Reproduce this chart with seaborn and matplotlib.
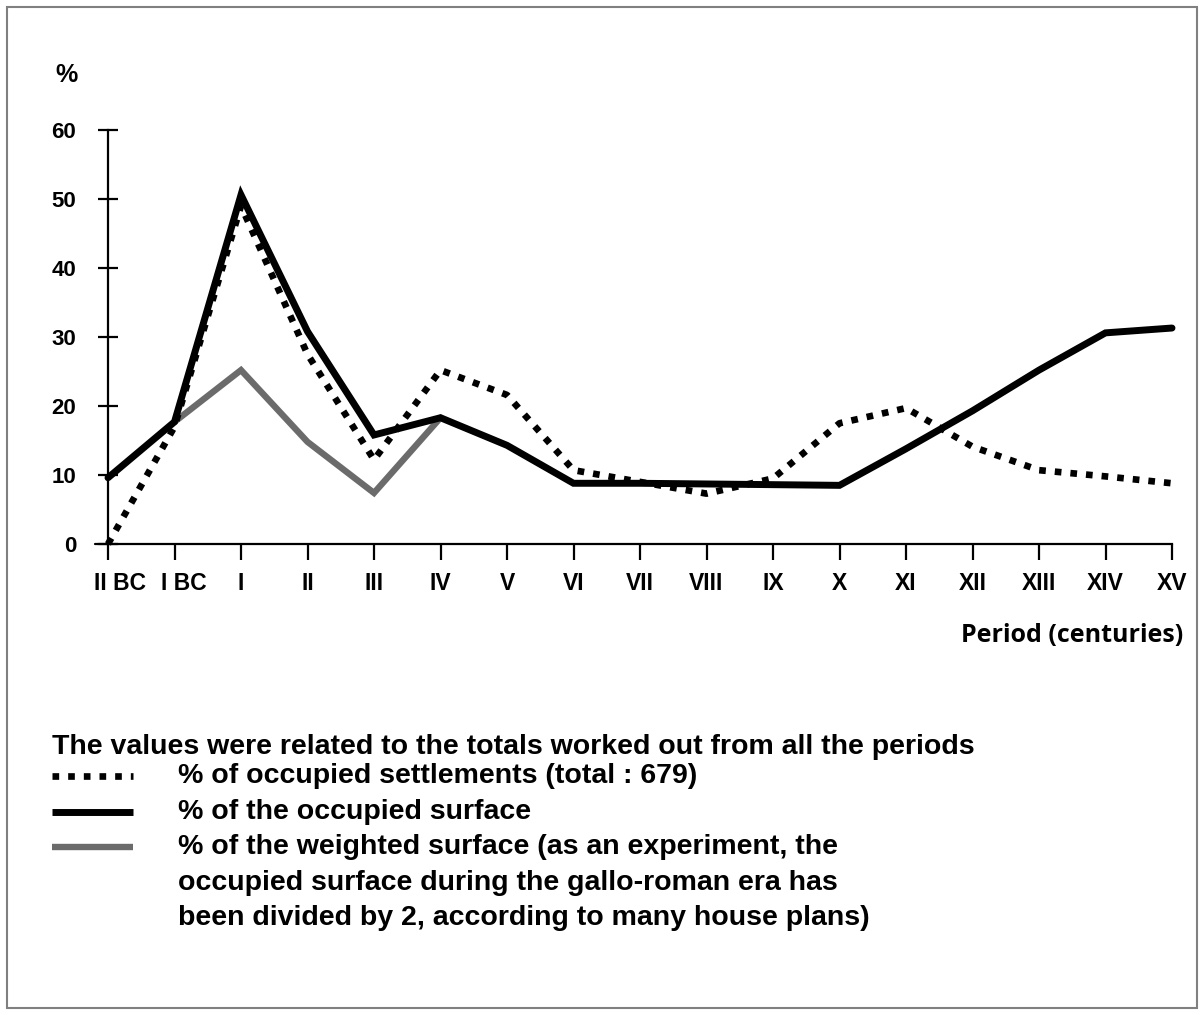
import matplotlib
matplotlib.use("Agg")
import matplotlib.pyplot as plt
import matplotlib.transforms as mtransforms
import seaborn as sns
import pandas as pd
from matplotlib.patches import Rectangle
from matplotlib.lines import Line2D

periods = ["II BC", "I BC", "I", "II", "III", "IV", "V", "VI", "VII", "VIII",
           "IX", "X", "XI", "XII", "XIII", "XIV", "XV"]
settlements = [0, 17, 49, 27.5, 12.2, 25.2, 21.6, 10.7, 9.0, 7.3,
               9.5, 17.5, 19.7, 14.1, 10.7, 9.8, 8.8]
surface = [9.6, 17.7, 50.6, 30.8, 15.8, 18.3, 14.3, 8.8, 8.8, 8.7,
           8.6, 8.5, 13.8, 19.3, 25.2, 30.6, 31.3]
weighted_periods = ["I BC", "I", "II", "III", "IV"]
weighted = [17.7, 25.2, 14.8, 7.4, 18.3]

yticks = [0, 10, 20, 30, 40, 50, 60]

sns.set_style("white")
plt.rcParams['font.family'] = ['Liberation Sans', 'DejaVu Sans']
plt.rcParams['text.color'] = 'black'

fig = plt.figure(figsize=(12.04, 10.15), dpi=100)
ax = fig.add_axes([108/1204, 1-544/1015, (1172-108)/1204, (544-130)/1015])

pos = {p: i for i, p in enumerate(periods)}
df1 = pd.DataFrame({"x": [pos[p] for p in periods], "y": settlements})
df2 = pd.DataFrame({"x": [pos[p] for p in periods], "y": surface})
df3 = pd.DataFrame({"x": [pos[p] for p in weighted_periods], "y": weighted})

sns.lineplot(data=df3, x="x", y="y", ax=ax, color="#6b6b6b", linewidth=4.6,
             solid_joinstyle="miter", clip_on=False)
sns.lineplot(data=df1, x="x", y="y", ax=ax, color="black", linewidth=4.8,
             linestyle=(0, (1, 1.35)), dash_capstyle="butt", clip_on=False)
sns.lineplot(data=df2, x="x", y="y", ax=ax, color="black", linewidth=5,
             solid_joinstyle="miter", clip_on=False)

ax.set_xlim(0, len(periods) - 1)
ax.set_ylim(0, 60)
ax.set_xticks(range(len(periods)))
ax.set_xticklabels(periods, fontweight="bold", fontsize=16.5, color="black")
ax.set_yticks(yticks)
ax.set_yticklabels([str(v) for v in yticks], fontweight="bold", fontsize=16, color="black")
ax.set_xlabel("")
ax.set_ylabel("")
for s in ["top", "right"]:
    ax.spines[s].set_visible(False)
for s in ["left", "bottom"]:
    ax.spines[s].set_linewidth(1.6)
    ax.spines[s].set_color("black")
ax.tick_params(axis="y", left=True, direction="inout", length=13.7, width=1.6,
               pad=16, colors="black")
ax.tick_params(axis="x", bottom=True, direction="out", length=11.5, width=1.6,
               pad=9, colors="black")
ax.patch.set_alpha(0)

# first two labels sit slightly right of their ticks in the original
labels = ax.get_xticklabels()
for lab, dx in zip(labels[:2], [12, 9]):
    lab.set_transform(lab.get_transform() +
                      mtransforms.ScaledTranslation(dx/100, 0, fig.dpi_scale_trans))

# small extension of x axis to left of y axis
ax.add_line(Line2D([-0.2, 0], [0, 0], color="black", linewidth=1.6,
                   transform=ax.transData, clip_on=False))

fig.text(66/1204, 1-75/1015, "%", fontsize=18, fontweight="bold",
         ha="center", va="center", color="black")
fig.text(1183/1204, 1-635/1015, "Period (centuries)", fontsize=18,
         fontweight="bold", ha="right", va="center", color="black",
         family=["Open Sans", "DejaVu Sans"])

fs = 20.5
fig.text(52/1204, 1-747/1015,
         "The values were related to the totals worked out from all the periods",
         fontsize=fs, fontweight="bold", ha="left", va="center", color="black")

leg_items = [
    (776, "% of occupied settlements (total : 679)", dict(color="black", linewidth=4.8, linestyle=(0, (1, 1.35)), dash_capstyle="butt")),
    (812, "% of the occupied surface", dict(color="black", linewidth=5)),
    (847, "% of the weighted surface (as an experiment, the", dict(color="#6b6b6b", linewidth=4.6)),
]
for y, txt, kw in leg_items:
    fig.add_artist(Line2D([52/1204, 133/1204], [1-y/1015, 1-y/1015],
                          transform=fig.transFigure, solid_capstyle="butt", **kw))
    fig.text(178/1204, 1-y/1015, txt, fontsize=fs, fontweight="bold",
             ha="left", va="center", color="black")
fig.text(178/1204, 1-883/1015, "occupied surface during the gallo-roman era has",
         fontsize=fs, fontweight="bold", ha="left", va="center", color="black")
fig.text(178/1204, 1-918/1015, "been divided by 2, according to many house plans)",
         fontsize=fs, fontweight="bold", ha="left", va="center", color="black")

fig.add_artist(Rectangle((7/1204, 7/1015), 1190/1204, 1001/1015,
                         transform=fig.transFigure, fill=False,
                         edgecolor="#808080", linewidth=1.5))

fig.savefig("out.png", dpi=100)
